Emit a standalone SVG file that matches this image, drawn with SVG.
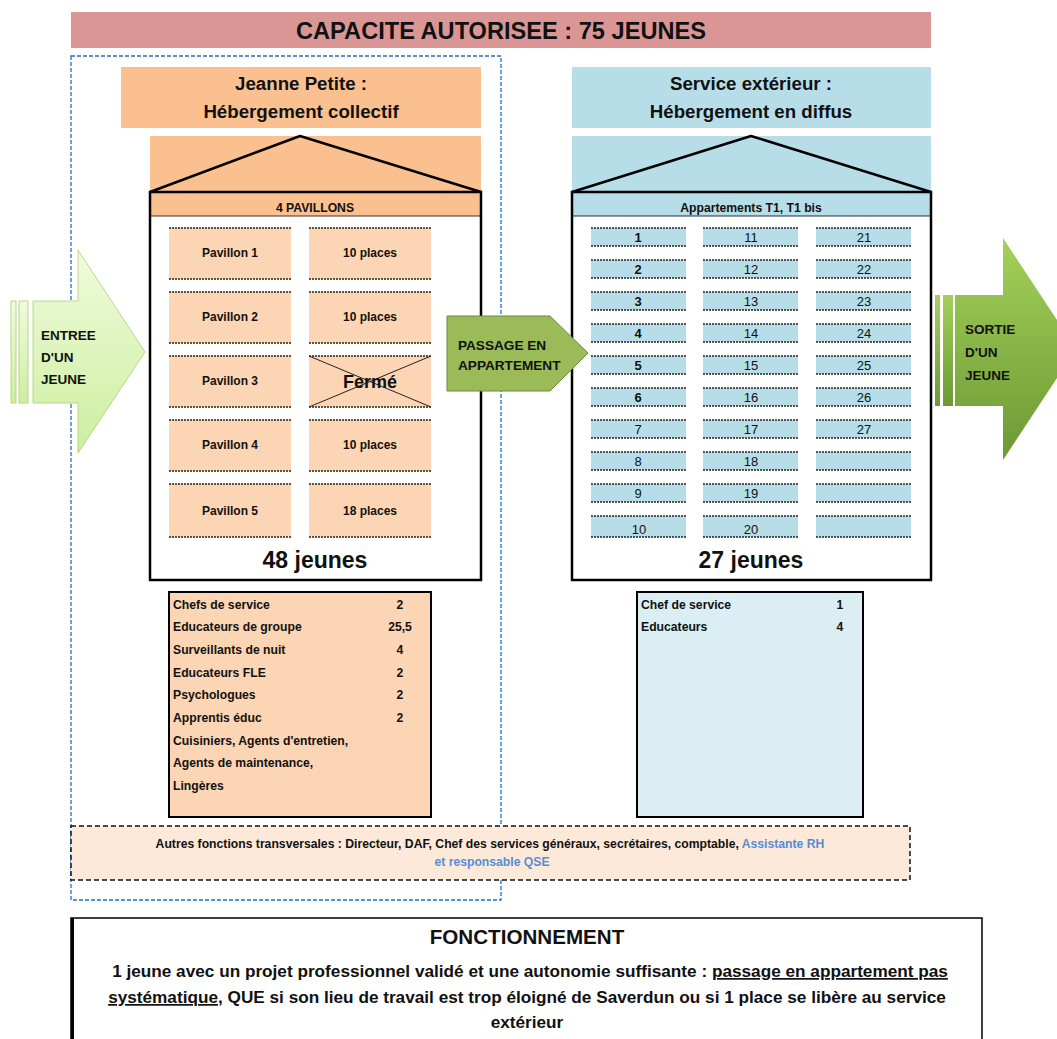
<svg xmlns="http://www.w3.org/2000/svg" xmlns:xlink="http://www.w3.org/1999/xlink" width="1057" height="1039" viewBox="0 0 1057 1039">
<style>
text{font-family:"Liberation Sans",Arial,sans-serif;fill:#111}
.b{font-weight:bold}
.c{text-anchor:middle}
.hb{stroke:#222;stroke-width:1.6;stroke-dasharray:2 1;fill:none}
.house{fill:none;stroke:#000;stroke-width:2.5}
.roof{fill:none;stroke:#000;stroke-width:2.5;stroke-linejoin:round}
.pv{fill:#fcd5b5}
.ap{fill:#b7dee8}
.pt{font-size:12px;font-weight:bold;text-anchor:middle}
.at{font-size:13px;text-anchor:middle}
.st{font-size:12.2px;font-weight:bold}
.blue{fill:#558ed5}
</style>
<defs>
<linearGradient id="gIn" x1="0" y1="0" x2="0" y2="1">
<stop offset="0" stop-color="#f0fbdc"/><stop offset="1" stop-color="#cdeea0"/>
</linearGradient>
<linearGradient id="gOut" x1="0" y1="0" x2="0" y2="1">
<stop offset="0" stop-color="#a4d05a"/><stop offset="1" stop-color="#6c9934"/>
</linearGradient>
<g id="pc"><rect class="pv" x="0" y="0" width="122" height="51"/><line class="hb" x1="0" y1="0" x2="122" y2="0"/><line class="hb" x1="0" y1="51" x2="122" y2="51"/></g>
<g id="pc2"><rect class="pv" x="0" y="0" width="122" height="53"/><line class="hb" x1="0" y1="0" x2="122" y2="0"/><line class="hb" x1="0" y1="53" x2="122" y2="53"/></g>
<g id="ac"><rect class="ap" x="0" y="0" width="95" height="18"/><line class="hb" x1="0" y1="0" x2="95" y2="0"/><line class="hb" x1="0" y1="18" x2="95" y2="18"/></g>
<g id="ac2"><rect class="ap" x="0" y="0" width="95" height="21"/><line class="hb" x1="0" y1="0" x2="95" y2="0"/><line class="hb" x1="0" y1="21" x2="95" y2="21"/></g>
</defs>
<rect width="1057" height="1039" fill="#fff"/>

<g id="header">
<rect x="71" y="12" width="860" height="36" fill="#da9694"/>
<text x="501" y="38.5" class="b c" font-size="23.6">CAPACITE AUTORISEE : 75 JEUNES</text>
</g>

<g id="zone-jeanne-petite">
<rect x="71" y="56" width="430" height="844" fill="none" stroke="#1f70c8" stroke-width="1.3" stroke-dasharray="4 2"/>
</g>

<g id="title-left">
<rect x="121" y="67" width="360" height="61" fill="#fac090"/>
<text x="301" y="90" class="b c" font-size="18.7">Jeanne Petite :</text>
<text x="301" y="118" class="b c" font-size="18.7">Hébergement collectif</text>
</g>

<g id="house-left">
<rect x="150" y="136" width="331" height="56" fill="#fac090"/>
<polyline class="roof" points="150,192 300,136 481,192"/>
<rect x="150" y="192" width="331" height="24" fill="#fac090"/>
<line x1="150" y1="216" x2="481" y2="216" stroke="#4a3020" stroke-width="1"/>
<text x="315" y="212" class="b c" font-size="12.2">4 PAVILLONS</text>
<rect class="house" x="150" y="192" width="331" height="388"/>
<text x="315" y="568" class="b c" font-size="23">48 jeunes</text>
</g>

<g id="pavillons">
<use xlink:href="#pc" x="169" y="228"/><use xlink:href="#pc" x="309" y="228"/>
<use xlink:href="#pc" x="169" y="292"/><use xlink:href="#pc" x="309" y="292"/>
<use xlink:href="#pc" x="169" y="356"/><use xlink:href="#pc" x="309" y="356"/>
<use xlink:href="#pc" x="169" y="420"/><use xlink:href="#pc" x="309" y="420"/>
<use xlink:href="#pc2" x="169" y="484"/><use xlink:href="#pc2" x="309" y="484"/>
<text class="pt" x="230" y="257">Pavillon 1</text><text class="pt" x="370" y="257">10 places</text>
<text class="pt" x="230" y="321">Pavillon 2</text><text class="pt" x="370" y="321">10 places</text>
<text class="pt" x="230" y="385">Pavillon 3</text>
<line x1="309" y1="356" x2="431" y2="407" stroke="#222" stroke-width="1"/>
<line x1="309" y1="407" x2="431" y2="356" stroke="#222" stroke-width="1"/>
<text x="370" y="388" class="c" font-size="18" font-weight="bold">Fermé</text>
<text class="pt" x="230" y="449">Pavillon 4</text><text class="pt" x="370" y="449">10 places</text>
<text class="pt" x="230" y="515">Pavillon 5</text><text class="pt" x="370" y="515">18 places</text>
</g>

<g id="title-right">
<rect x="572" y="67" width="359" height="61" fill="#b7dee8"/>
<text x="751" y="90" class="b c" font-size="18.7">Service extérieur :</text>
<text x="751" y="118" class="b c" font-size="18.7">Hébergement en diffus</text>
</g>

<g id="house-right">
<rect x="572" y="136" width="359" height="56" fill="#b7dee8"/>
<polyline class="roof" points="572,192 751,136 931,192"/>
<rect x="572" y="192" width="359" height="24" fill="#b7dee8"/>
<line x1="572" y1="216" x2="931" y2="216" stroke="#203040" stroke-width="1"/>
<text x="751" y="212" class="b c" font-size="12.2">Appartements T1, T1 bis</text>
<rect class="house" x="572" y="192" width="359" height="388"/>
<text x="751" y="568" class="b c" font-size="23">27 jeunes</text>
</g>

<g id="appartements">
<use xlink:href="#ac" x="591" y="228"/><use xlink:href="#ac" x="703" y="228"/><use xlink:href="#ac" x="816" y="228"/>
<use xlink:href="#ac" x="591" y="260"/><use xlink:href="#ac" x="703" y="260"/><use xlink:href="#ac" x="816" y="260"/>
<use xlink:href="#ac" x="591" y="292"/><use xlink:href="#ac" x="703" y="292"/><use xlink:href="#ac" x="816" y="292"/>
<use xlink:href="#ac" x="591" y="324"/><use xlink:href="#ac" x="703" y="324"/><use xlink:href="#ac" x="816" y="324"/>
<use xlink:href="#ac" x="591" y="356"/><use xlink:href="#ac" x="703" y="356"/><use xlink:href="#ac" x="816" y="356"/>
<use xlink:href="#ac" x="591" y="388"/><use xlink:href="#ac" x="703" y="388"/><use xlink:href="#ac" x="816" y="388"/>
<use xlink:href="#ac" x="591" y="420"/><use xlink:href="#ac" x="703" y="420"/><use xlink:href="#ac" x="816" y="420"/>
<use xlink:href="#ac" x="591" y="452"/><use xlink:href="#ac" x="703" y="452"/><use xlink:href="#ac" x="816" y="452"/>
<use xlink:href="#ac" x="591" y="484"/><use xlink:href="#ac" x="703" y="484"/><use xlink:href="#ac" x="816" y="484"/>
<use xlink:href="#ac2" x="591" y="516"/><use xlink:href="#ac2" x="703" y="516"/><use xlink:href="#ac2" x="816" y="516"/>
<text class="at b" x="638" y="242">1</text><text class="at" x="751" y="242">11</text><text class="at" x="864" y="242">21</text>
<text class="at b" x="638" y="274">2</text><text class="at" x="751" y="274">12</text><text class="at" x="864" y="274">22</text>
<text class="at b" x="638" y="306">3</text><text class="at" x="751" y="306">13</text><text class="at" x="864" y="306">23</text>
<text class="at b" x="638" y="338">4</text><text class="at" x="751" y="338">14</text><text class="at" x="864" y="338">24</text>
<text class="at b" x="638" y="370">5</text><text class="at" x="751" y="370">15</text><text class="at" x="864" y="370">25</text>
<text class="at b" x="638" y="402">6</text><text class="at" x="751" y="402">16</text><text class="at" x="864" y="402">26</text>
<text class="at" x="638" y="434">7</text><text class="at" x="751" y="434">17</text><text class="at" x="864" y="434">27</text>
<text class="at" x="638" y="466">8</text><text class="at" x="751" y="466">18</text>
<text class="at" x="638" y="498">9</text><text class="at" x="751" y="498">19</text>
<text class="at" x="639" y="534">10</text><text class="at" x="751" y="534">20</text>
</g>

<g id="staff-left">
<rect x="169" y="592" width="262" height="225" fill="#fcd5b4" stroke="#000" stroke-width="2"/>
<text class="st" x="173" y="609">Chefs de service</text><text class="st c" x="400" y="609">2</text>
<text class="st" x="173" y="631">Educateurs de groupe</text><text class="st c" x="400" y="631">25,5</text>
<text class="st" x="173" y="654">Surveillants de nuit</text><text class="st c" x="400" y="654">4</text>
<text class="st" x="173" y="677">Educateurs FLE</text><text class="st c" x="400" y="677">2</text>
<text class="st" x="173" y="699">Psychologues</text><text class="st c" x="400" y="699">2</text>
<text class="st" x="173" y="722">Apprentis éduc</text><text class="st c" x="400" y="722">2</text>
<text class="st" x="173" y="745">Cuisiniers, Agents d'entretien,</text>
<text class="st" x="173" y="767">Agents de maintenance,</text>
<text class="st" x="173" y="790">Lingères</text>
</g>

<g id="staff-right">
<rect x="637" y="592" width="226" height="225" fill="#dbeef4" stroke="#000" stroke-width="2"/>
<text class="st" x="641" y="609">Chef de service</text><text class="st c" x="840" y="609">1</text>
<text class="st" x="641" y="631">Educateurs</text><text class="st c" x="840" y="631">4</text>
</g>

<g id="autres-fonctions">
<rect x="71" y="826" width="839" height="54" fill="#fde9d9" stroke="#111" stroke-width="1.5" stroke-dasharray="5 3"/>
<text x="490" y="847.5" class="b c" font-size="12.2">Autres fonctions transversales : Directeur, DAF, Chef des services généraux, secrétaires, comptable, <tspan class="blue">Assistante RH</tspan></text>
<text x="492" y="865.5" class="b c blue" font-size="12.2">et responsable QSE</text>
</g>

<g id="fonctionnement">
<rect x="71" y="918" width="911" height="130" fill="#fff" stroke="#000" stroke-width="1.5"/>
<line x1="72.5" y1="918" x2="72.5" y2="1039" stroke="#000" stroke-width="3"/>
<text x="527" y="943.5" class="b c" font-size="20.6">FONCTIONNEMENT</text>
<text x="530" y="977" class="b c" font-size="17.2">1 jeune avec un projet professionnel validé et une autonomie suffisante : <tspan text-decoration="underline">passage en appartement pas</tspan></text>
<text x="527" y="1003" class="b c" font-size="17.2"><tspan text-decoration="underline">systématique</tspan>, QUE si son lieu de travail est trop éloigné de Saverdun ou si 1 place se libère au service</text>
<text x="527" y="1028" class="b c" font-size="17.2">extérieur</text>
</g>

<g id="connectors">
<g id="arrow-entree">
<rect x="11" y="301" width="5" height="102" fill="url(#gIn)" stroke="#a8d070" stroke-width="0.8"/>
<rect x="19" y="301" width="9" height="102" fill="url(#gIn)" stroke="#a8d070" stroke-width="0.8"/>
<polygon points="33,301 78,301 78,250 145,352 78,453 78,403 33,403" fill="url(#gIn)" stroke="#a8d070" stroke-width="0.8"/>
<text class="b" font-size="13.5" x="41" y="340">ENTREE</text>
<text class="b" font-size="13.5" x="41" y="362">D'UN</text>
<text class="b" font-size="13.5" x="41" y="384">JEUNE</text>
</g>
<g id="arrow-passage">
<polygon points="447,316 550,316 588,353 550,391 447,391" fill="#9bbb59" stroke="#71893f" stroke-width="1"/>
<text class="b" font-size="13.6" x="458" y="349.5">PASSAGE EN</text>
<text class="b" font-size="13.6" x="458" y="369.5">APPARTEMENT</text>
</g>
<g id="arrow-sortie">
<rect x="935" y="295" width="5" height="111" fill="url(#gOut)"/>
<rect x="943" y="295" width="10" height="111" fill="url(#gOut)"/>
<polygon points="955,295 1003,295 1003,238 1076,349 1003,460 1003,406 955,406" fill="url(#gOut)"/>
<text class="b" font-size="13.5" x="965" y="334">SORTIE</text>
<text class="b" font-size="13.5" x="965" y="357">D'UN</text>
<text class="b" font-size="13.5" x="965" y="380">JEUNE</text>
</g>
</g>
</svg>
